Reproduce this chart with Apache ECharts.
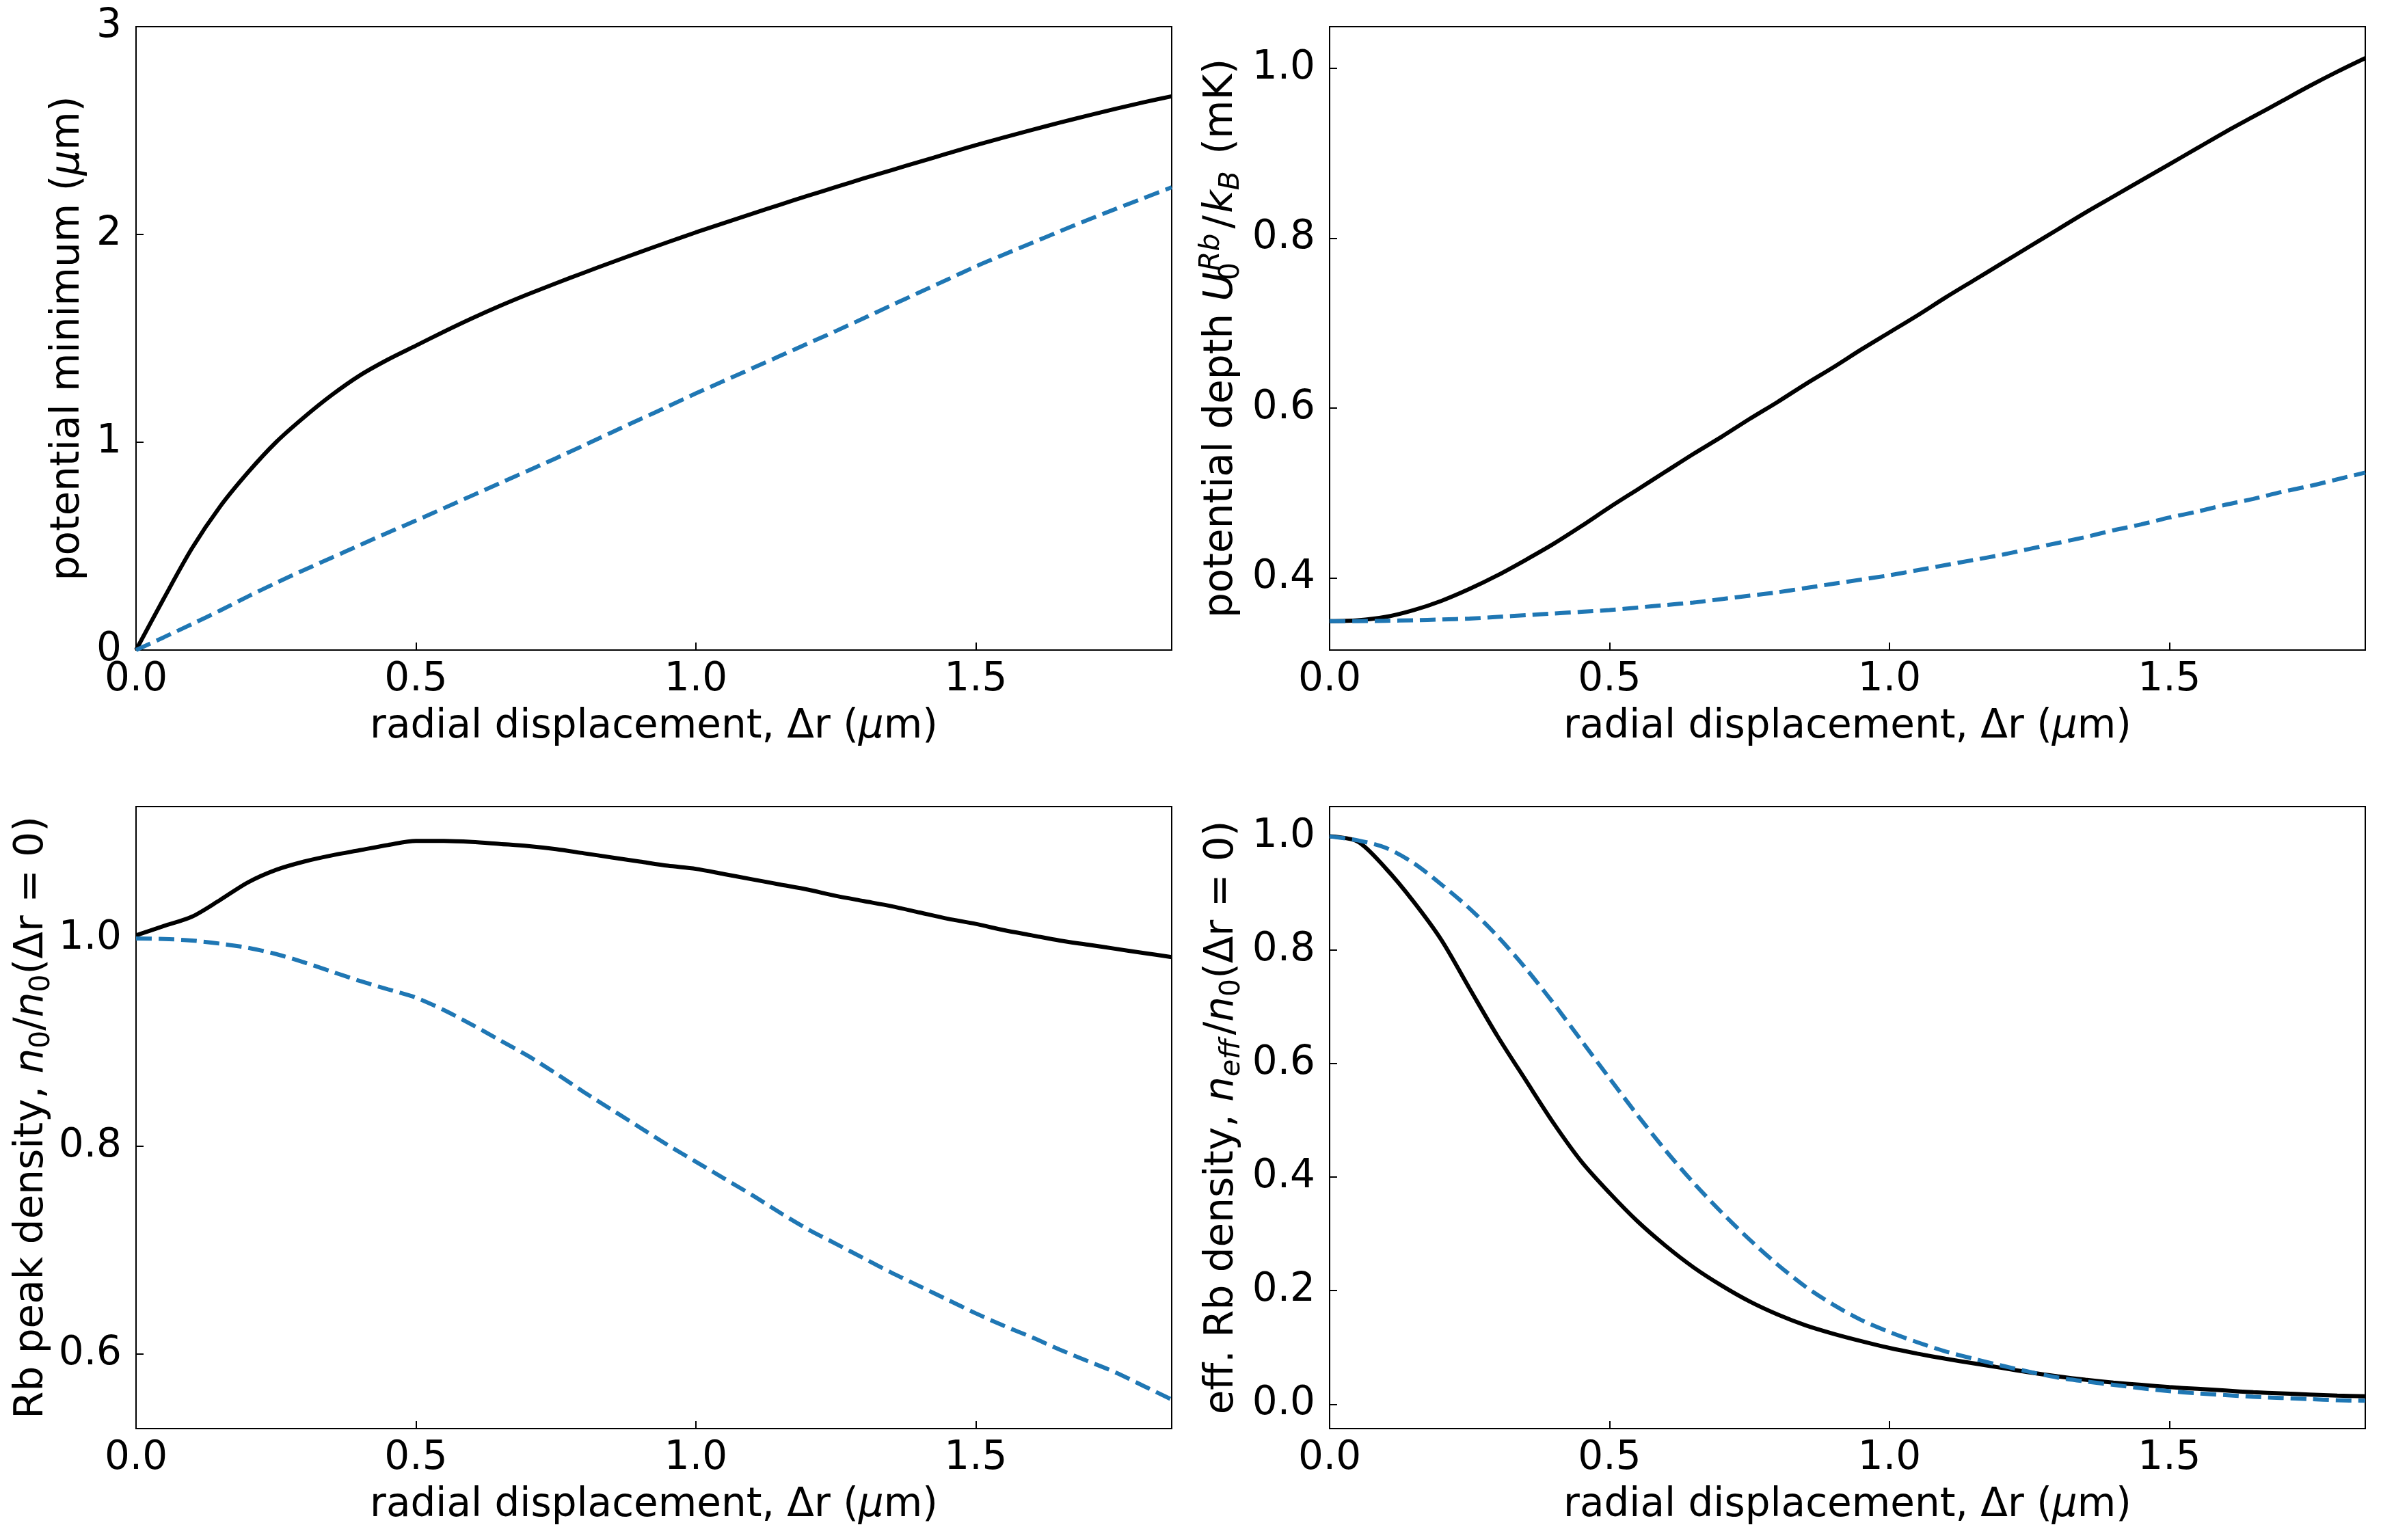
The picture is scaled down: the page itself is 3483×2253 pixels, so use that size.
<!DOCTYPE html>
<html lang="en">
<head>
    <meta charset="UTF-8">
    <title>radial displacement</title>
    <script src="https://cdn.jsdelivr.net/npm/echarts@6/dist/echarts.min.js"></script>
    <style>
        html, body { margin: 0; padding: 0; background: #fff; }
        #chart { width: 3483px; height: 2253px; }
    </style>
</head>
<body>
<div id="chart"></div>
<script type="text/javascript">
    // radial displacement (um), shared by all four panels
    const dr = [0.00, 0.05, 0.10, 0.15, 0.20, 0.25, 0.30, 0.35, 0.40, 0.45,
        0.50, 0.55, 0.60, 0.65, 0.70, 0.75, 0.80, 0.85, 0.90, 0.95,
        1.00, 1.05, 1.10, 1.15, 1.20, 1.25, 1.30, 1.35, 1.40, 1.45,
        1.50, 1.55, 1.60, 1.65, 1.70, 1.75, 1.80, 1.85];

    // top left: potential minimum (um)
    const minBlack = [0.000, 0.250, 0.490, 0.690, 0.855, 1.000, 1.120, 1.228, 1.322, 1.398,
        1.465, 1.532, 1.596, 1.656, 1.712, 1.765, 1.816, 1.866, 1.915, 1.963,
        2.010, 2.055, 2.099, 2.143, 2.186, 2.228, 2.270, 2.310, 2.350, 2.390,
        2.430, 2.467, 2.503, 2.538, 2.572, 2.605, 2.636, 2.665];
    const minBlue = [0.000, 0.062, 0.125, 0.190, 0.258, 0.323, 0.385, 0.445, 0.505, 0.565,
        0.623, 0.683, 0.743, 0.803, 0.863, 0.923, 0.985, 1.048, 1.110, 1.172,
        1.235, 1.295, 1.355, 1.415, 1.475, 1.535, 1.597, 1.660, 1.722, 1.784,
        1.846, 1.903, 1.959, 2.015, 2.070, 2.123, 2.175, 2.227];

    // top right: potential depth (mK)
    const depthBlack = [0.349, 0.350, 0.354, 0.362, 0.373, 0.387, 0.403, 0.421, 0.440, 0.461,
        0.483, 0.504, 0.525, 0.546, 0.566, 0.587, 0.607, 0.628, 0.648, 0.669,
        0.689, 0.709, 0.730, 0.750, 0.770, 0.790, 0.810, 0.830, 0.849, 0.868,
        0.887, 0.906, 0.925, 0.943, 0.961, 0.979, 0.996, 1.012];
    const depthBlue = [0.349, 0.349, 0.3495, 0.350, 0.351, 0.352, 0.354, 0.356, 0.358, 0.360,
        0.362, 0.365, 0.368, 0.371, 0.375, 0.379, 0.383, 0.388, 0.393, 0.398,
        0.403, 0.409, 0.415, 0.421, 0.427, 0.434, 0.441, 0.448, 0.456, 0.463,
        0.471, 0.478, 0.486, 0.493, 0.501, 0.508, 0.516, 0.524];

    // bottom left: peak density n0/n0(dr=0)
    const peakBlack = [1.003, 1.012, 1.021, 1.037, 1.054, 1.066, 1.074, 1.080, 1.085, 1.090,
        1.094, 1.094, 1.093, 1.091, 1.089, 1.086, 1.082, 1.078, 1.074, 1.070,
        1.067, 1.062, 1.057, 1.052, 1.047, 1.041, 1.036, 1.031, 1.025, 1.019,
        1.014, 1.008, 1.003, 0.998, 0.994, 0.990, 0.986, 0.982];
    const peakBlue = [1.000, 0.9995, 0.998, 0.995, 0.991, 0.985, 0.977, 0.968, 0.959, 0.951,
        0.943, 0.931, 0.917, 0.902, 0.887, 0.870, 0.852, 0.835, 0.818, 0.801,
        0.785, 0.769, 0.753, 0.736, 0.720, 0.706, 0.692, 0.678, 0.665, 0.652,
        0.639, 0.627, 0.616, 0.604, 0.593, 0.582, 0.569, 0.556];

    // bottom right: effective density neff/n0(dr=0)
    const effBlack = [1.000, 0.991, 0.944, 0.885, 0.817, 0.732, 0.648, 0.571, 0.495, 0.427,
        0.372, 0.322, 0.279, 0.241, 0.209, 0.181, 0.158, 0.139, 0.124, 0.111,
        0.099, 0.089, 0.080, 0.072, 0.064, 0.056, 0.049, 0.043, 0.038, 0.034,
        0.030, 0.027, 0.024, 0.021, 0.019, 0.017, 0.015, 0.014];
    const effBlue = [1.000, 0.993, 0.980, 0.953, 0.915, 0.873, 0.824, 0.768, 0.706, 0.640,
        0.574, 0.509, 0.447, 0.390, 0.338, 0.290, 0.246, 0.207, 0.175, 0.148,
        0.127, 0.109, 0.093, 0.080, 0.068, 0.057, 0.047, 0.040, 0.034, 0.028,
        0.023, 0.019, 0.016, 0.013, 0.011, 0.009, 0.007, 0.006];

    const xTicks = ['0.0', '0.5', '1.0', '1.5'];

    const FONT = 'DejaVu Sans';
    const BLUE = '#1f77b4';

    const rich = {
        i: {fontFamily: FONT, fontSize: 58, lineHeight: 70, fontStyle: 'italic', color: '#000'},
        sl: {fontFamily: FONT, fontSize: 58, lineHeight: 70, color: '#000', padding: [0, 3, 0, 3]},
        sub: {fontFamily: FONT, fontSize: 41, lineHeight: 34, verticalAlign: 'bottom', color: '#000'},
        subi: {fontFamily: FONT, fontSize: 41, lineHeight: 34, verticalAlign: 'bottom', fontStyle: 'italic', color: '#000', padding: [0, 6, 0, 0]},
        sub0: {fontFamily: FONT, fontSize: 41, lineHeight: 34, verticalAlign: 'bottom', width: 2, color: '#000'},
        sup: {fontFamily: FONT, fontSize: 41, lineHeight: 34, verticalAlign: 'top', fontStyle: 'italic', color: '#000', padding: [0, 4, 0, 0]}
    };

    const nameStyle = {fontFamily: FONT, fontSize: 58, lineHeight: 70, color: '#000', rich: rich};

    const grids = [
        {left: 199, top: 39, width: 1515, height: 912},
        {left: 1945, top: 39, width: 1515, height: 912},
        {left: 199, top: 1180, width: 1515, height: 910},
        {left: 1945, top: 1180, width: 1515, height: 910}
    ].map(g => Object.assign(g, {show: true, borderColor: '#000', borderWidth: 2}));

    // label only on multiples of step, not on the axis ends
    function tickFmt(step, digits) {
        return function (v) {
            let k = v / step;
            if (Math.abs(k - Math.round(k)) > 1e-6) return '';
            return v.toFixed(digits);
        };
    }

    function xAxis(i) {
        return {
            type: 'value', gridIndex: i, min: 0, max: 1.85, interval: 0.5,
            name: 'radial displacement, Δr ({i|μ}m)',
            nameLocation: 'middle', nameGap: 78, nameTextStyle: nameStyle,
            axisLine: {show: true, onZero: false, lineStyle: {color: '#000', width: 2}},
            axisTick: {show: true, inside: true, length: 11, lineStyle: {color: '#000', width: 2}},
            axisLabel: {
                fontFamily: FONT, fontSize: 58, lineHeight: 58, color: '#000', margin: 15,
                formatter: v => {
                    let k = Math.round(v / 0.5);
                    return Math.abs(v / 0.5 - k) < 1e-6 ? xTicks[k] : '';
                }
            },
            splitLine: {show: false}
        };
    }

    function yAxis(i, name, gap, min, max, extra, fmt) {
        return Object.assign({
            type: 'value', gridIndex: i, min: min, max: max,
            name: name, nameLocation: 'middle', nameRotate: 90, nameGap: gap,
            nameTextStyle: nameStyle,
            axisLine: {show: true, onZero: false, lineStyle: {color: '#000', width: 2}},
            axisTick: {show: true, inside: true, length: 11, lineStyle: {color: '#000', width: 2}},
            axisLabel: {fontFamily: FONT, fontSize: 58, color: '#000', margin: 21, formatter: fmt},
            splitLine: {show: false}
        }, extra);
    }

    function line(i, ys, dashed) {
        return {
            type: 'line', xAxisIndex: i, yAxisIndex: i,
            data: dr.map((x, k) => [x, ys[k]]),
            showSymbol: false, symbol: 'none', smooth: 0.3,
            lineStyle: dashed
                ? {color: BLUE, width: 6, type: [23, 10]}
                : {color: '#000', width: 6},
            animation: false
        };
    }

    const chart = echarts.init(document.getElementById('chart'));
    chart.setOption({
        animation: false,
        backgroundColor: '#fff',
        grid: grids,
        xAxis: [xAxis(0), xAxis(1), xAxis(2), xAxis(3)],
        yAxis: [
            yAxis(0, 'potential minimum ({i|μ}m)', 64, 0, 3, {interval: 1}, tickFmt(1, 0)),
            yAxis(1, 'potential depth {i|U}{sub0|0}{sup|Rb}{sl|/}{i|k}{subi|B} (mK)', 123, 0.315, 1.049,
                {splitNumber: 4}, tickFmt(0.2, 1)),
            yAxis(2, 'Rb peak density, {i|n}{sub|0}/{i|n}{sub|0}(Δr = 0)', 111, 0.528, 1.127,
                {splitNumber: 3}, tickFmt(0.2, 1)),
            yAxis(3, 'eff. Rb density, {i|n}{subi|eff}/{i|n}{sub|0}(Δr = 0)', 122, -0.043, 1.0525,
                {splitNumber: 5}, tickFmt(0.2, 1))
        ],
        series: [
            line(0, minBlack, false), line(0, minBlue, true),
            line(1, depthBlack, false), line(1, depthBlue, true),
            line(2, peakBlack, false), line(2, peakBlue, true),
            line(3, effBlack, false), line(3, effBlue, true)
        ]
    });
    window.onresize = function () {
        chart.resize();
    };
</script>
</body>
</html>
